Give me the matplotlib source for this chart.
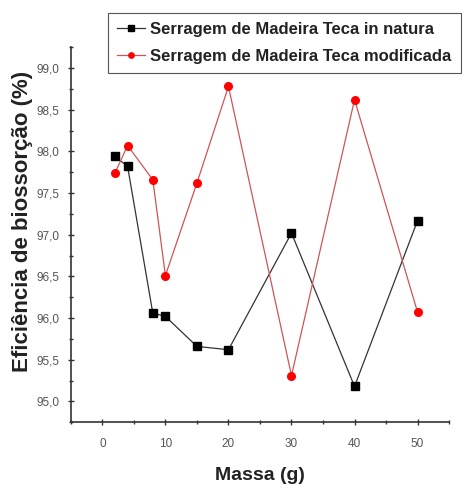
import matplotlib.pyplot as plt
from matplotlib.ticker import MultipleLocator, FuncFormatter

# data
massa = [2, 4, 8, 10, 15, 20, 30, 40, 50]
in_natura = [97.94, 97.82, 96.06, 96.02, 95.66, 95.62, 97.02, 95.18, 97.17]
modificada = [97.74, 98.07, 97.66, 96.51, 97.62, 98.78, 95.31, 98.62, 96.07]
labels = ["Serragem de Madeira Teca in natura", "Serragem de Madeira Teca modificada"]

fig = plt.figure(figsize=(4.63, 4.87), dpi=100)
ax = fig.add_axes([0.153, 0.133, 0.817, 0.770])

ax.plot(massa, in_natura, color="#333333", lw=0.9, marker="s", ms=5.5,
        mfc="black", mec="black", label=labels[0])
ax.plot(massa, modificada, color="#cc5555", lw=0.9, marker="o", ms=5.5,
        mfc="red", mec="red", label=labels[1])

ax.set_xlim(-5, 55)
ax.set_ylim(94.75, 99.25)
ax.xaxis.set_major_locator(MultipleLocator(10))
ax.xaxis.set_minor_locator(MultipleLocator(5))
ax.yaxis.set_major_locator(MultipleLocator(0.5))
ax.yaxis.set_minor_locator(MultipleLocator(0.25))
ax.yaxis.set_major_formatter(FuncFormatter(lambda v, p: f"{v:.1f}".replace(".", ",")))

for s in ["top", "right"]:
    ax.spines[s].set_visible(False)
for s in ["left", "bottom"]:
    ax.spines[s].set_linewidth(1.2)
    ax.spines[s].set_color("#333333")

ax.tick_params(which="major", direction="inout", length=5, width=1, color="#333333",
               labelsize=8.5, labelcolor="#555555")
ax.tick_params(axis="x", pad=9)
ax.tick_params(axis="y", pad=6)
ax.tick_params(which="minor", direction="inout", length=3, width=1, color="#333333")
for t in ax.get_xticklabels() + ax.get_yticklabels():
    t.set_family("Liberation Sans")

ax.set_xlabel("Massa (g)", fontsize=14, fontweight="bold", family="Liberation Sans",
              color="#222222", labelpad=12)
ax.set_ylabel("Eficiência de biossorção (%)", fontsize=16, fontweight="bold",
              family="Liberation Sans", color="#222222", va="center")
ax.yaxis.set_label_coords(-0.127, 0.536)

leg = fig.legend(loc="upper left", bbox_to_anchor=(0.233, 0.973), borderaxespad=0,
                 frameon=True, fancybox=False, edgecolor="#555555", framealpha=1,
                 handlelength=1.7, handletextpad=0.3, borderpad=0.55, labelspacing=0.7,
                 markerscale=0.7,
                 prop={"family": "Liberation Sans", "size": 12, "weight": "bold"})
leg.get_frame().set_linewidth(0.8)
for t in leg.get_texts():
    t.set_color("#222222")

fig.savefig("out.png", dpi=100)
